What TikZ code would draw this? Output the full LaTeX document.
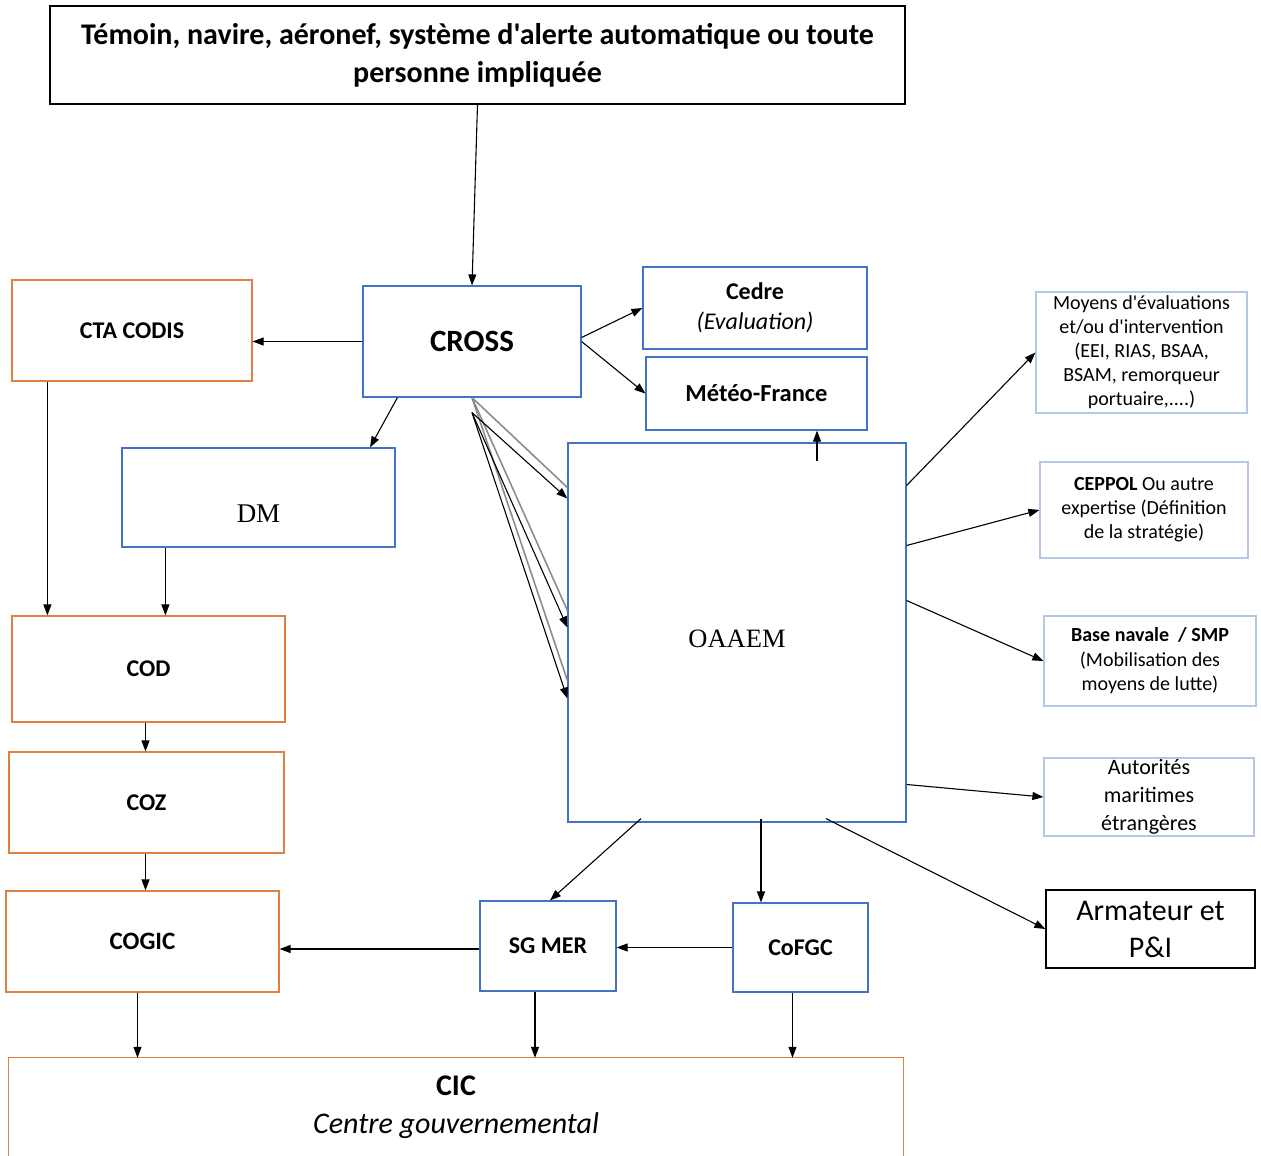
\documentclass[tikz,border=0pt]{standalone}
\usepackage{fontspec}
\setmainfont{Carlito}[Ligatures=TeXOff]
\newfontfamily\timesfont{Liberation Serif}
\usetikzlibrary{arrows.meta}

\definecolor{boxorange}{RGB}{222,128,66}
\definecolor{boxblue}{RGB}{68,114,196}
\definecolor{boxpale}{RGB}{180,199,231}

\newcommand{\fsz}[2]{\fontsize{#1}{#2}\selectfont}
\newcommand{\sinktext}[2]{\raisebox{-#1pt}[\height][0pt]{#2}}

\begin{document}
\begin{tikzpicture}[x=1pt, y=-1pt,
    box/.style={draw, line width=1.2pt, rectangle, align=center, inner sep=0pt},
    orangebox/.style={box, draw=boxorange},
    bluebox/.style={box, draw=boxblue},
    palebox/.style={box, draw=boxpale},
    blackbox/.style={box, draw=black},
    arr/.style={line width=1.1pt, -{Triangle[length=11pt, width=8pt]}},
    ghost/.style={line width=1.6pt, black!45}]
  \clip (0,0) rectangle (1261,1156);

  % alerte
  \node[blackbox, minimum width=855, minimum height=98, font=\fsz{30}{38}\bfseries] (temoin) at (477.5,55)
    {T\'emoin, navire, a\'eronef, syst\`eme d'alerte automatique ou toute\\ personne impliqu\'ee};

  % centres de coordination
  \node[bluebox, minimum width=218, minimum height=111, font=\fsz{31}{36}\bfseries] (cross) at (472,341.5) {CROSS};
  \node[orangebox, minimum width=240, minimum height=101, font=\fsz{24}{28}\bfseries] (cta) at (132,330.5) {CTA CODIS};
  \node[bluebox, minimum width=224, minimum height=82, font=\fsz{24}{30}] (cedre) at (755,308)
    {\textbf{Cedre}\\ \textit{(Evaluation)}};
  \node[bluebox, minimum width=221, minimum height=73, font=\fsz{24.5}{28}\bfseries] (meteo) at (756.5,393.5) {M\'et\'eo-France};
  \node[bluebox, minimum width=273, minimum height=99, font=\fsz{27}{30}\timesfont] (dm) at (258.5,497.5) {\sinktext{16}{DM}};
  \node[bluebox, minimum width=338, minimum height=379, font=\fsz{26.5}{30}\timesfont] (oaaem) at (737,632.5) {\sinktext{6}{OAAEM}};

  % chaine zonale
  \node[orangebox, minimum width=273, minimum height=106, font=\fsz{24}{28}\bfseries] (cod) at (148.5,669) {COD};
  \node[orangebox, minimum width=275, minimum height=101, font=\fsz{24}{28}\bfseries] (coz) at (146.5,802.5) {COZ};
  \node[orangebox, minimum width=273, minimum height=101, font=\fsz{25}{28}\bfseries] (cogic) at (142.5,941.5) {COGIC};
  \node[bluebox, minimum width=136, minimum height=90, font=\fsz{24}{28}\bfseries] (sgmer) at (548,946) {SG MER};
  \node[bluebox, minimum width=135, minimum height=89, font=\fsz{24}{28}\bfseries] (cofgc) at (800.5,947.5) {CoFGC};
  \node[minimum width=894, minimum height=92, align=center, inner sep=0pt, font=\fsz{30}{38}] (cic) at (456,1107)
    {\textbf{CIC}\\ \textit{Centre gouvernemental}};
  \draw[boxorange, line width=1.2pt] (cic.south west |- 0,1190) -- ([yshift=3]cic.north west)
    -- ([yshift=3]cic.north east) -- (cic.south east |- 0,1190);

  % partenaires
  \node[palebox, minimum width=211, minimum height=121, font=\fsz{20}{24}] (moyens) at (1141.5,352.5)
    {Moyens d'\'evaluations\\ et/ou d'intervention\\ (EEI, RIAS, BSAA,\\ BSAM, remorqueur\\ portuaire,....)};
  \node[palebox, minimum width=208, minimum height=96, font=\fsz{20}{24}] (ceppol) at (1144,510)
    {\textbf{CEPPOL} Ou autre\\ expertise (D\'efinition\\ de la strat\'egie)};
  \node[palebox, minimum width=212, minimum height=90, font=\fsz{20}{24.5}] (base) at (1150,661)
    {\textbf{Base navale \ / SMP}\\ (Mobilisation des\\ moyens de lutte)};
  \node[palebox, minimum width=210, minimum height=78, font=\fsz{22}{28}] (autorites) at (1149,797)
    {Autorit\'es\\ maritimes\\ \'etrang\`eres};
  \node[blackbox, minimum width=209, minimum height=78, font=\fsz{30}{37}] (armateur) at (1150.5,929)
    {Armateur et\\ P\&I};

  % liaisons du CROSS
  \draw[arr] (temoin.south) -- (cross.north);
  \draw[arr] (cross.west) -- (cross.west -| cta.east);
  \draw[arr] ([yshift=4]cross.east) -- (cedre.west);
  \draw[arr] (cross.east) -- (meteo.west);
  \draw[arr] ([xshift=35]cross.south west) -- ([xshift=111.5]dm.north);
  \draw[ghost] (cross.south) -- ([yshift=145]oaaem.west);
  \draw[ghost] (cross.south) -- ([yshift=22]oaaem.west);
  \draw[ghost] (cross.south) -- ([yshift=-48]oaaem.west);
  \draw[arr] ([yshift=-15]cross.south) -- ([yshift=134]oaaem.west);
  \draw[arr] ([yshift=-15]cross.south) -- ([yshift=5]oaaem.west);
  \draw[arr] ([yshift=-15]cross.south) -- ([yshift=-66]oaaem.west);

  % liaisons de l'OAAEM
  \draw[arr] ([xshift=80,yshift=-19]oaaem.north) coordinate (m) -- (m |- meteo.south);
  \draw[arr] ([yshift=147]oaaem.east) -- (moyens.west);
  \draw[arr] ([yshift=87]oaaem.east) -- (ceppol.west);
  \draw[arr] ([yshift=32]oaaem.east) -- (base.west);
  \draw[arr] ([yshift=-152]oaaem.east) -- (autorites.west);
  \draw[arr] ([xshift=89,yshift=4]oaaem.south) -- (armateur.west);
  \draw[arr] ([xshift=-96,yshift=4]oaaem.south) -- ([xshift=2]sgmer.north);
  \draw[arr] ([xshift=24,yshift=4]oaaem.south) coordinate (f) -- (f |- cofgc.north);
  \draw[arr] (cofgc.west) -- (cofgc.west -| sgmer.east);
  \draw[arr] ([yshift=-3]sgmer.west) coordinate (s) -- (s -| cogic.east);

  % chaine verticale
  \draw[arr] ([xshift=36]cta.south west) coordinate (c) -- (c |- cod.north);
  \draw[arr] ([xshift=44]dm.south west) coordinate (d) -- (d |- cod.north);
  \draw[arr] ([xshift=-3]cod.south) coordinate (o) -- (o |- coz.north);
  \draw[arr] (o |- coz.south) -- (o |- cogic.north);
  \draw[arr] ([xshift=-5]cogic.south) coordinate (g) -- ([yshift=3]g |- cic.north);
  \draw[arr] ([xshift=-13]sgmer.south) coordinate (h) -- ([yshift=3]h |- cic.north);
  \draw[arr] ([xshift=-8]cofgc.south) coordinate (k) -- ([yshift=3]k |- cic.north);
\end{tikzpicture}
\end{document}
